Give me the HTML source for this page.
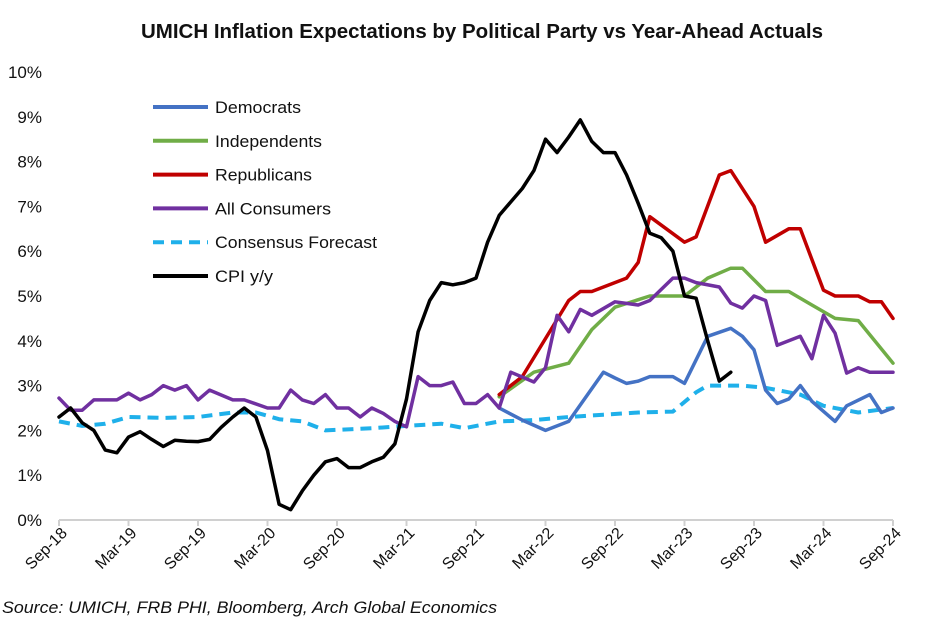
<!DOCTYPE html>
<html><head><meta charset="utf-8"><style>
html,body{margin:0;padding:0;background:#fff;}
svg{display:block;font-family:"Liberation Sans",Arial,sans-serif;}
</style></head><body>
<svg id="chart" width="934" height="622" viewBox="0 0 934 622" xmlns="http://www.w3.org/2000/svg">
<text x="141" y="38" font-size="20" font-weight="bold" fill="#111" textLength="682" lengthAdjust="spacingAndGlyphs">UMICH Inflation Expectations by Political Party vs Year-Ahead Actuals</text>
<g id="yaxis"></g>
<g id="xaxis"></g>
<g id="series"></g>
<g id="legend"></g>
<text x="2" y="613" font-size="17" font-style="italic" fill="#111" textLength="495" lengthAdjust="spacingAndGlyphs">Source: UMICH,  FRB PHI,  Bloomberg, Arch Global Economics</text>
</svg>
<script>
const xTickLabels = ["Sep-18","Mar-19","Sep-19","Mar-20","Sep-20","Mar-21","Sep-21","Mar-22","Sep-22","Mar-23","Sep-23","Mar-24","Sep-24"];
const yTicks = [0,1,2,3,4,5,6,7,8,9,10];

const cpiMonths = [0,1,2,3,4,5,6,7,8,9,10,11,12,13,14,15,16,17,18,19,20,21,22,23,24,25,26,27,28,29,30,31,32,33,34,35,36,37,38,39,40,41,42,43,44,45,46,47,48,49,50,51,52,53,54,55,56,57,58];
const cpiValues = [2.3,2.5,2.17,2.0,1.56,1.5,1.85,1.97,1.8,1.64,1.78,1.76,1.75,1.8,2.07,2.3,2.5,2.3,1.55,0.35,0.23,0.65,1.0,1.3,1.37,1.17,1.17,1.3,1.4,1.7,2.7,4.2,4.9,5.3,5.25,5.3,5.4,6.2,6.8,7.1,7.4,7.8,8.5,8.2,8.55,8.93,8.45,8.2,8.2,7.7,7.07,6.4,6.3,6.0,5.0,4.95,4.0,3.1,3.3];

const consMonths = [0,2,4,6,9,12,15,17,19,21,23,27,30,33,35,38,41,44,47,50,53,55,56,59,61,64,66,69,72];
const consValues = [2.2,2.1,2.15,2.3,2.28,2.3,2.4,2.4,2.25,2.2,2.0,2.05,2.1,2.15,2.05,2.2,2.23,2.3,2.35,2.4,2.42,2.85,3.0,3.0,2.95,2.8,2.55,2.4,2.5];

const demMonths = [38,40,42,44,47,48,49,50,51,53,54,56,58,59,60,61,62,63,64,65,67,68,70,71,72];
const demValues = [2.5,2.23,2.0,2.2,3.3,3.17,3.05,3.1,3.2,3.2,3.05,4.1,4.28,4.1,3.8,2.9,2.6,2.7,3.0,2.65,2.2,2.55,2.8,2.4,2.5];

const indMonths = [38,41,44,46,48,51,54,56,58,59,61,63,65,67,69,72];
const indValues = [2.75,3.3,3.5,4.25,4.75,5.0,5.0,5.4,5.62,5.62,5.1,5.1,4.8,4.5,4.45,3.5];

const repMonths = [38,40,44,45,46,49,50,51,54,55,57,58,60,61,63,64,66,67,69,70,71,72];
const repValues = [2.8,3.2,4.9,5.1,5.1,5.4,5.75,6.77,6.2,6.32,7.7,7.8,7.0,6.2,6.5,6.5,5.13,5.0,5.0,4.87,4.87,4.5];

const allMonths = [0,1,2,3,5,6,7,8,9,10,11,12,13,15,16,18,19,20,21,22,23,24,25,26,27,28,29,30,31,32,33,34,35,36,37,38,39,41,42,43,44,45,46,48,50,51,53,54,55,57,58,59,60,61,62,64,65,66,67,68,69,70,71,72];
const allValues = [2.72,2.45,2.45,2.68,2.68,2.83,2.68,2.8,3.0,2.9,3.0,2.68,2.9,2.68,2.68,2.5,2.5,2.9,2.68,2.6,2.8,2.5,2.5,2.3,2.5,2.38,2.2,2.08,3.2,3.0,3.0,3.08,2.6,2.6,2.8,2.5,3.3,3.08,3.4,4.57,4.2,4.7,4.57,4.87,4.8,4.9,5.4,5.4,5.3,5.2,4.84,4.73,5.0,4.9,3.9,4.1,3.6,4.57,4.17,3.28,3.4,3.3,3.3,3.3];

const seriesNames = ["Democrats","Independents","Republicans","All Consumers","Consensus Forecast","CPI y/y"];
const legendWidths = [86,107,97,116,162,58];

const NS="http://www.w3.org/2000/svg";
const X0=59,X1=893,Y0=520,Y1=72;
function xs(m){return X0+(X1-X0)*m/72;}
function ys(v){return Y0-(Y0-Y1)*v/10;}
function mk(tag,attrs,parent){const e=document.createElementNS(NS,tag);for(const k in attrs)e.setAttribute(k,attrs[k]);parent.appendChild(e);return e;}

const yaxis=document.getElementById('yaxis');
yTicks.forEach(v=>{
  const t=mk('text',{x:42,y:ys(v)+6,'text-anchor':'end','font-size':17,fill:'#111'},yaxis);
  t.textContent=v+'%';
  
  
});
const xaxis=document.getElementById('xaxis');
const axl=mk('line',{x1:X0,y1:Y0,x2:X1,y2:Y0,stroke:'#d0d0d0','stroke-width':2},xaxis);


xTickLabels.forEach((lab,i)=>{
  const x=xs(i*6);
  const tk=mk('line',{x1:x,y1:Y0,x2:x,y2:Y0+6,stroke:'#d0d0d0','stroke-width':2},xaxis);
  
  
  const t=mk('text',{x:x+9,y:Y0+14,'text-anchor':'end','font-size':16,fill:'#111',transform:`rotate(-45 ${x+9} ${Y0+14})`},xaxis);
  t.textContent=lab;
  
  
});

const sg=document.getElementById('series');
function line(ms,vs,color,dash,name){
  const d=ms.map((m,i)=>(i?'L':'M')+xs(m).toFixed(1)+' '+ys(vs[i]).toFixed(1)).join(' ');
  const p=mk('path',{d:d,fill:'none',stroke:color,'stroke-width':dash?4:3.5,'stroke-linejoin':'round','stroke-linecap':dash?'butt':'round'},sg);
  if(dash)p.setAttribute('stroke-dasharray','11 7');
  
  
}
line(consMonths,consValues,'#1fb0ea',true,'consensus-forecast-line');
line(demMonths,demValues,'#4472c4',false,'democrats-line');
line(indMonths,indValues,'#70ad47',false,'independents-line');
line(repMonths,repValues,'#c00000',false,'republicans-line');
line(allMonths,allValues,'#7030a0',false,'all-consumers-line');
line(cpiMonths,cpiValues,'#000000',false,'cpi-line');

const lg=document.getElementById('legend');
const lcolors=['#4472c4','#70ad47','#c00000','#7030a0','#1fb0ea','#000000'];
seriesNames.forEach((n,i)=>{
  const y=107+i*33.8;
  const l=mk('line',{x1:153,y1:y,x2:208,y2:y,stroke:lcolors[i],'stroke-width':4},lg);
  if(i===4){l.setAttribute('stroke-dasharray','11 7');}
  
  
  const t=mk('text',{x:215,y:y+6,'font-size':17,fill:'#111',textLength:legendWidths[i],lengthAdjust:'spacingAndGlyphs'},lg);
  t.textContent=n;
  
  
});
</script>
</body></html>
